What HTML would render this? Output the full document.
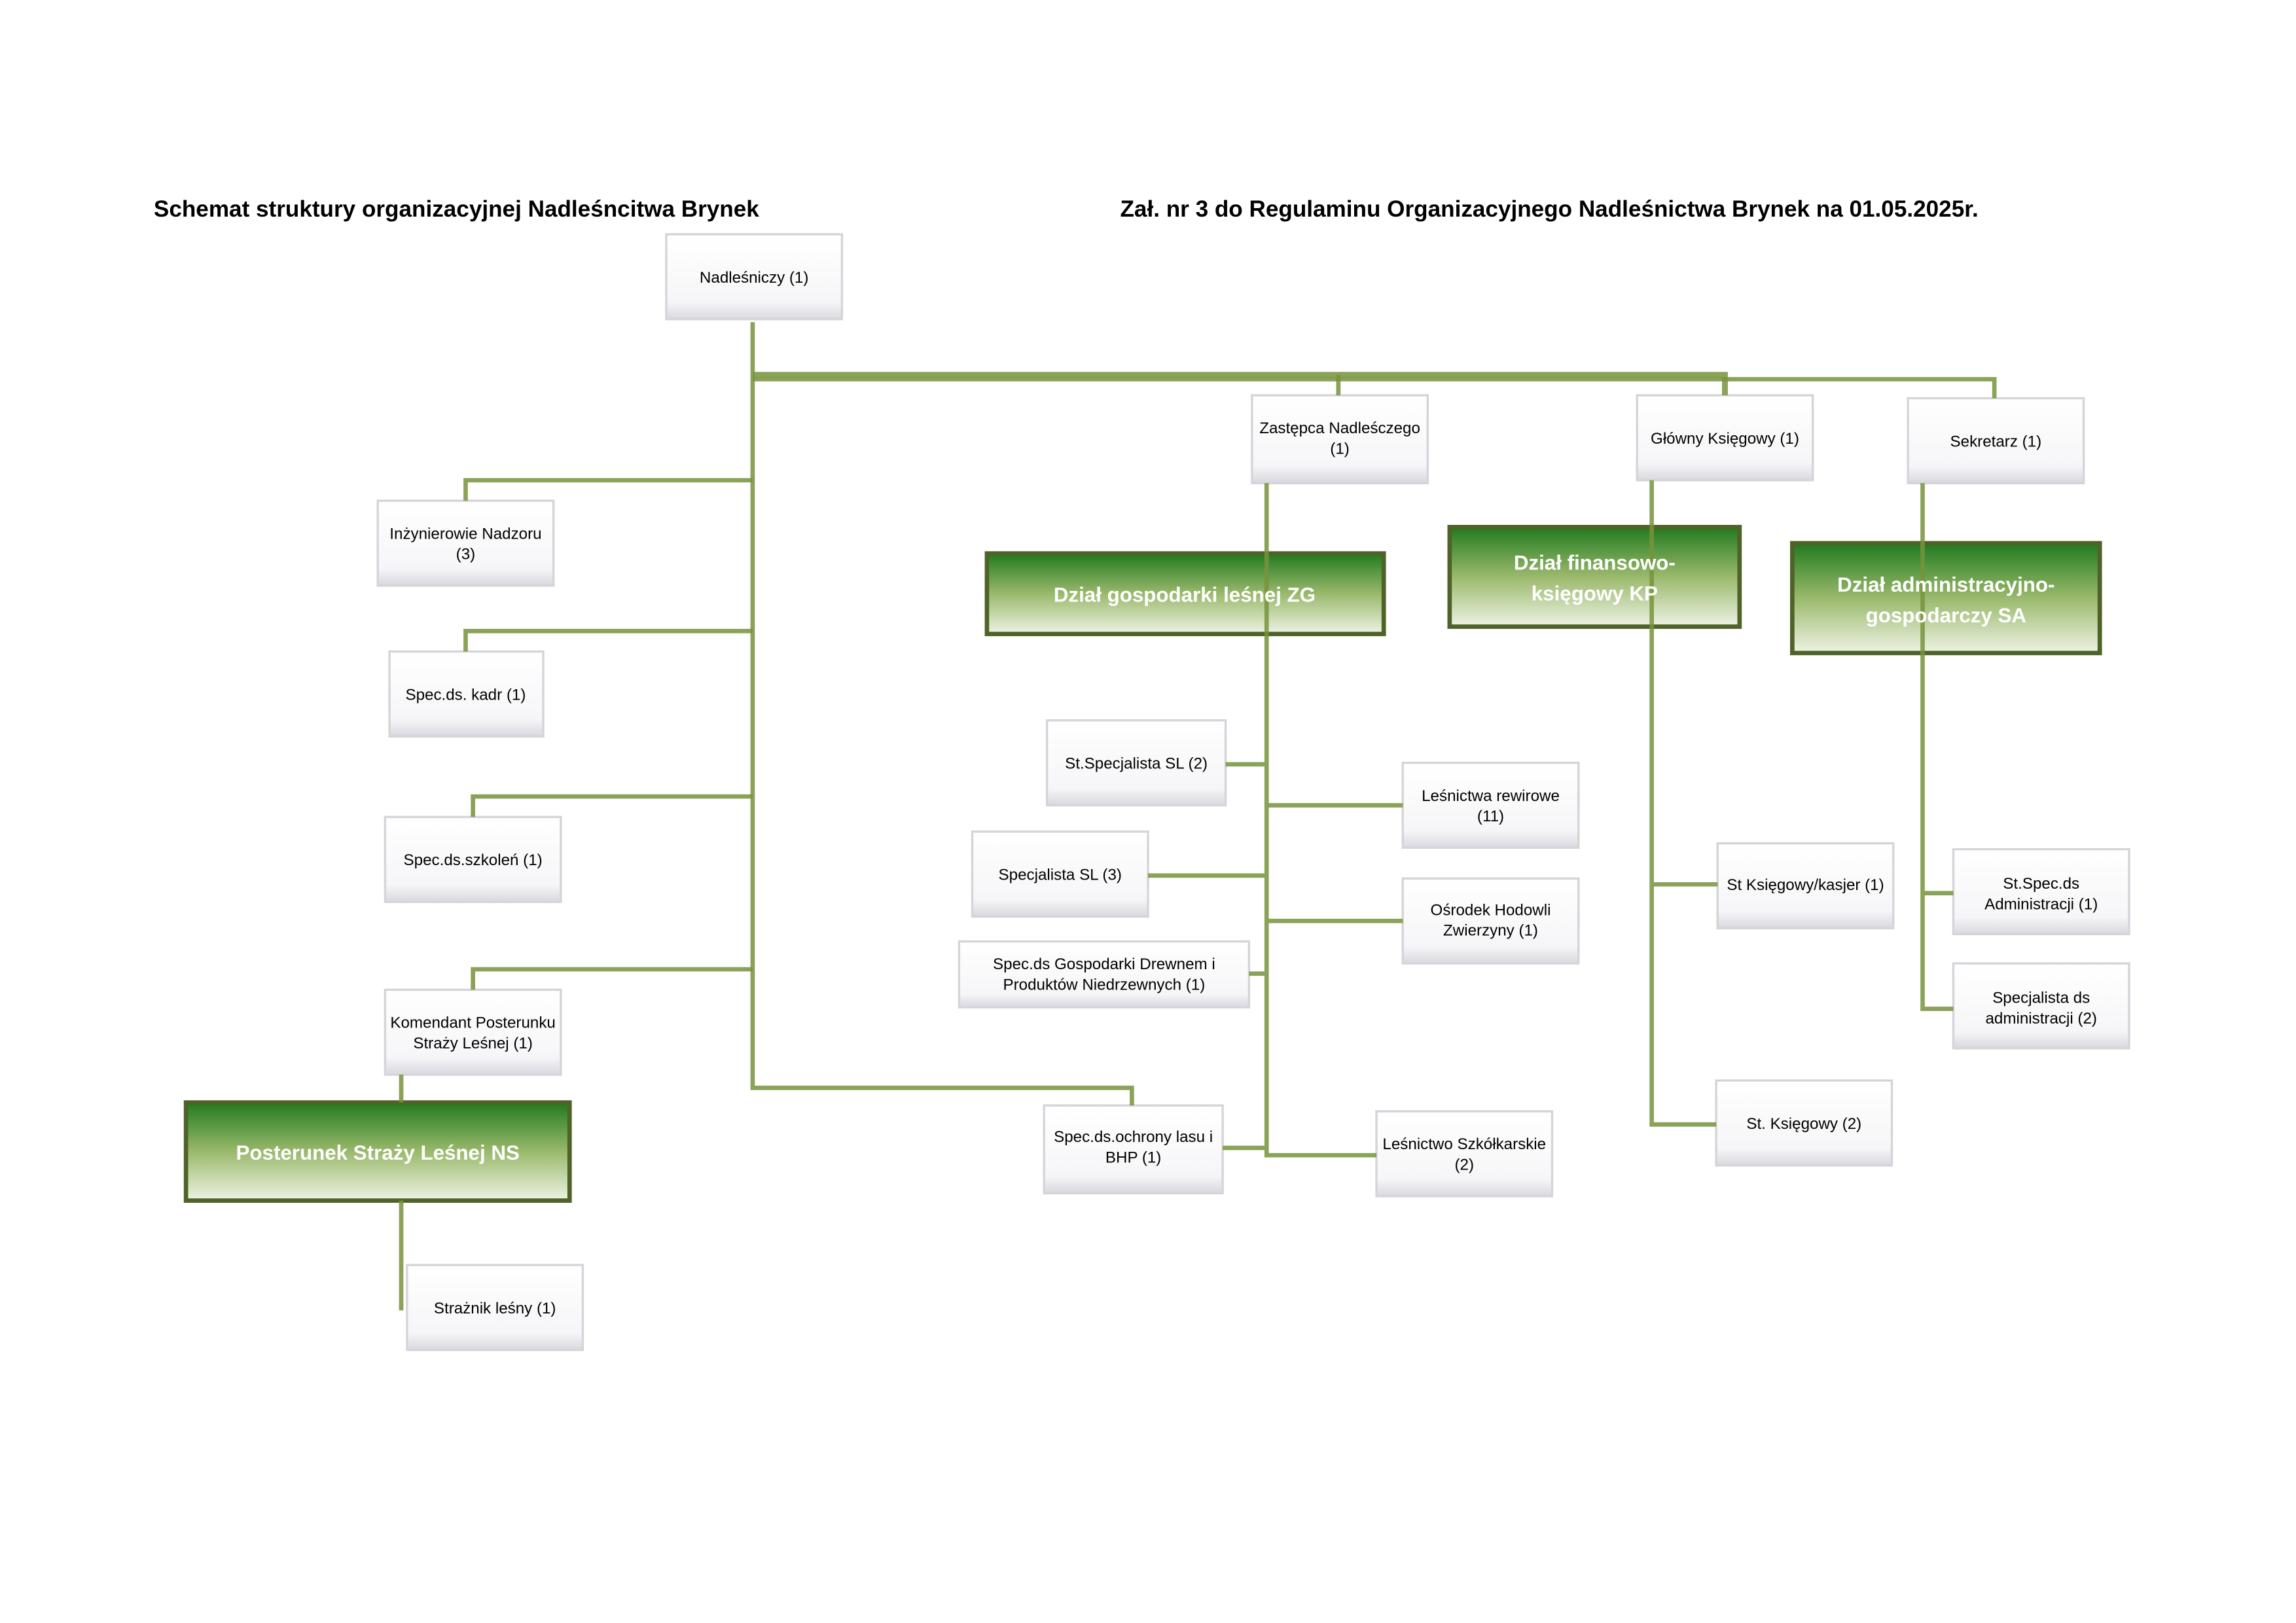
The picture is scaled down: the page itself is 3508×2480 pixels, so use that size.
<!DOCTYPE html>
<html><head><meta charset="utf-8"><style>
html,body{margin:0;padding:0;background:#fff}
svg{display:block}
</style></head><body>
<svg width="3508" height="2480" viewBox="0 0 1568 1108.5" preserveAspectRatio="none" xmlns="http://www.w3.org/2000/svg">
<defs>
<linearGradient id="g" x1="0" y1="0" x2="0" y2="1">
<stop offset="0" stop-color="#217a1f"/><stop offset="0.5" stop-color="#9ab96c"/><stop offset="1" stop-color="#eef3e4"/>
</linearGradient>
<linearGradient id="w" x1="0" y1="0" x2="0" y2="1">
<stop offset="0" stop-color="#ffffff"/><stop offset="0.8" stop-color="#f6f6f8"/><stop offset="1" stop-color="#d8d8de"/>
</linearGradient>
</defs>
<rect width="1568" height="1109" fill="#fff"/>
<g font-family="Liberation Sans, Arial, sans-serif" font-weight="bold" font-size="15.7" fill="#000">
<text x="105" y="148">Schemat struktury organizacyjnej Nadleśncitwa Brynek</text>
<text x="765" y="148">Zał. nr 3 do Regulaminu Organizacyjnego Nadleśnictwa Brynek na 01.05.2025r.</text>
</g>
<g stroke="#d4d4da" stroke-width="1.5" fill="url(#w)">
<rect x="455" y="160" width="120" height="58"/>
<rect x="855" y="270" width="120" height="60"/>
<rect x="1118" y="270" width="120" height="58"/>
<rect x="1303" y="272" width="120" height="58"/>
<rect x="258" y="342" width="120" height="58"/>
<rect x="266" y="445" width="105" height="58"/>
<rect x="263" y="558" width="120" height="58"/>
<rect x="263" y="676" width="120" height="58"/>
<rect x="278" y="864" width="120" height="58"/>
<rect x="713" y="755" width="122" height="60"/>
<rect x="715" y="492" width="122" height="58"/>
<rect x="664" y="568" width="120" height="58"/>
<rect x="655" y="643" width="198" height="45"/>
<rect x="958" y="521" width="120" height="58"/>
<rect x="958" y="600" width="120" height="58"/>
<rect x="940" y="759" width="120" height="58"/>
<rect x="1173" y="576" width="120" height="58"/>
<rect x="1172" y="738" width="120" height="58"/>
<rect x="1334" y="580" width="120" height="58"/>
<rect x="1334" y="658" width="120" height="58"/>
</g>
<g stroke="#4f6228" stroke-width="3" fill="url(#g)">
<rect x="674" y="378" width="271" height="55"/>
<rect x="990" y="360" width="198" height="68"/>
<rect x="1224" y="371" width="210" height="75"/>
<rect x="127" y="753" width="262" height="67"/>
</g>
<g stroke="#77933c" stroke-width="3" fill="none" stroke-opacity="0.85">
<path d="M514 220V743H773V755"/>
<path d="M514 256H1178V270" stroke-width="4"/>
<path d="M514 259H1362V272"/>
<path d="M914 256V270"/>
<path d="M514 328H318V342M514 431H318V445M514 544H323V558M514 662H323V676"/>
<path d="M274 734V753M274 820V895"/>
<path d="M865 330V789H940M837 522H865M784 598H865M853 665H865M835 784H865M865 550H958M865 629H958"/>
<path d="M1128 328V768H1172M1128 604H1173"/>
<path d="M1313 330V689H1334M1313 610H1334"/>
</g>
<g font-family="Liberation Sans, Arial, sans-serif" font-size="10.8" fill="#000" text-anchor="middle">
<text x="515" y="193">Nadleśniczy (1)</text>
<text x="915" y="296">Zastępca Nadleśczego</text><text x="915" y="310">(1)</text>
<text x="1178" y="303">Główny Księgowy (1)</text>
<text x="1363" y="305">Sekretarz (1)</text>
<text x="318" y="368">Inżynierowie Nadzoru</text><text x="318" y="382">(3)</text>
<text x="318" y="478">Spec.ds. kadr (1)</text>
<text x="323" y="591">Spec.ds.szkoleń (1)</text>
<text x="323" y="702">Komendant Posterunku</text><text x="323" y="716">Straży Leśnej (1)</text>
<text x="338" y="897">Strażnik leśny (1)</text>
<text x="774" y="780">Spec.ds.ochrony lasu i</text><text x="774" y="794">BHP (1)</text>
<text x="776" y="525">St.Specjalista SL (2)</text>
<text x="724" y="601">Specjalista SL (3)</text>
<text x="754" y="662">Spec.ds Gospodarki Drewnem i</text><text x="754" y="676">Produktów Niedrzewnych (1)</text>
<text x="1018" y="547">Leśnictwa rewirowe</text><text x="1018" y="561">(11)</text>
<text x="1018" y="625">Ośrodek Hodowli</text><text x="1018" y="639">Zwierzyny (1)</text>
<text x="1000" y="785">Leśnictwo Szkółkarskie</text><text x="1000" y="799">(2)</text>
<text x="1233" y="608">St Księgowy/kasjer (1)</text>
<text x="1232" y="771">St. Księgowy (2)</text>
<text x="1394" y="607">St.Spec.ds</text><text x="1394" y="621">Administracji (1)</text>
<text x="1394" y="685">Specjalista ds</text><text x="1394" y="699">administracji (2)</text>
</g>
<g font-family="Liberation Sans, Arial, sans-serif" font-size="14" font-weight="bold" fill="#fff" text-anchor="middle">
<text x="809" y="411">Dział gospodarki leśnej ZG</text>
<text x="1089" y="389">Dział  finansowo-</text><text x="1089" y="410">księgowy KP</text>
<text x="1329" y="404">Dział administracyjno-</text><text x="1329" y="425">gospodarczy SA</text>
<text x="258" y="792">Posterunek Straży Leśnej NS</text>
</g>
</svg>
</body></html>
